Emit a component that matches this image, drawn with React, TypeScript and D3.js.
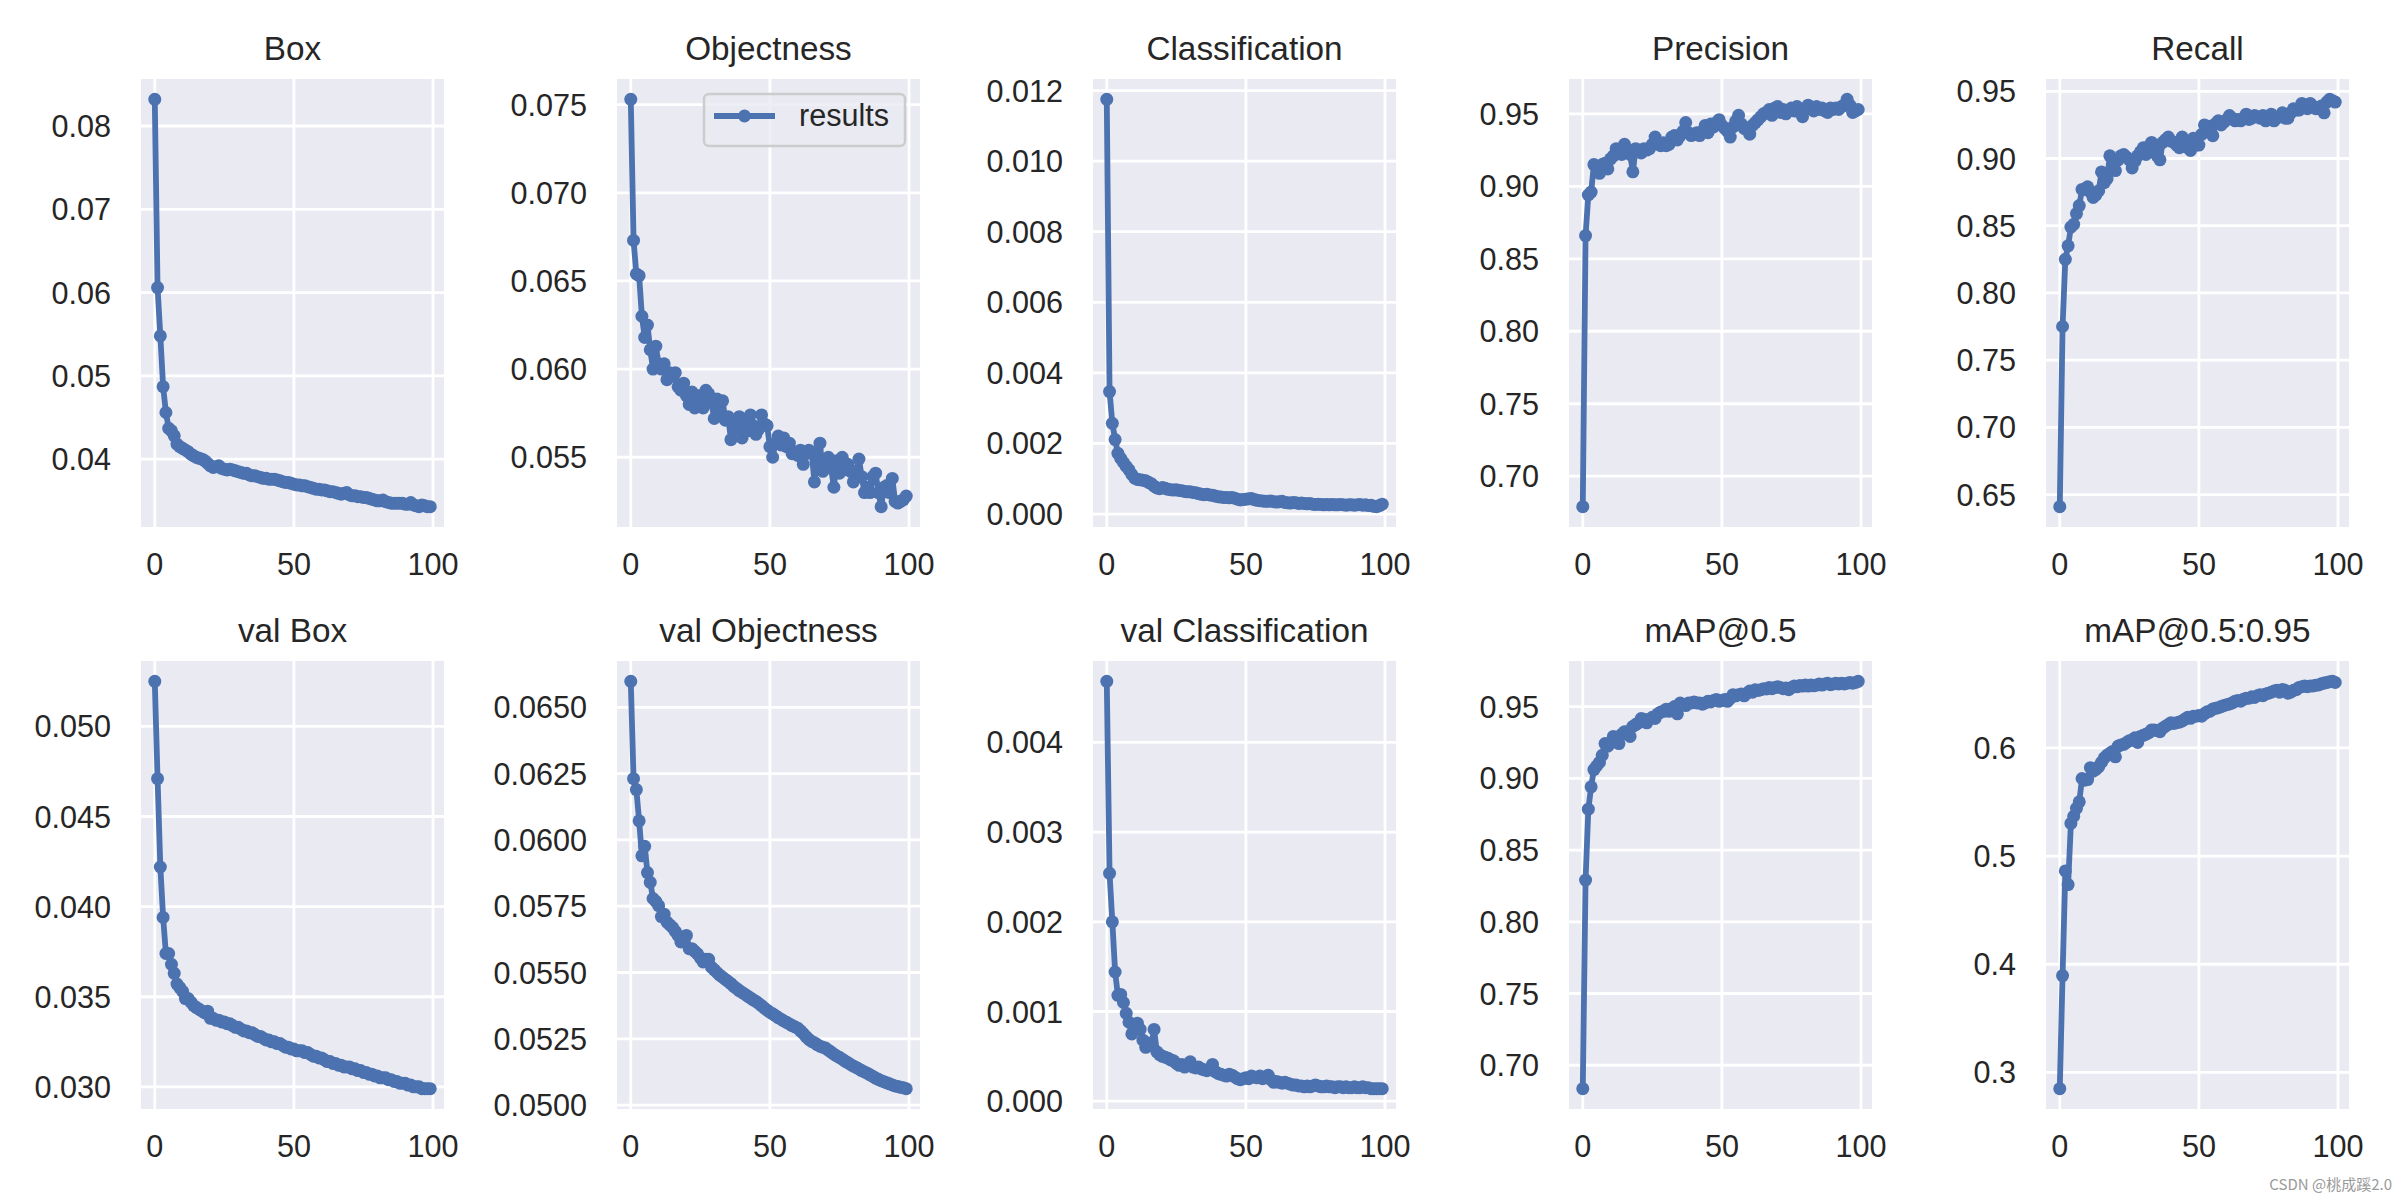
import React from "react";
import * as d3 from "d3";

const titles = ["Box", "Objectness", "Classification", "Precision", "Recall", "val Box", "val Objectness", "val Classification", "mAP@0.5", "mAP@0.5:0.95"];

const boxLoss = [0.0832,0.0606,0.0548,0.0487,0.0456,0.0437,0.0434,0.0428,0.0418,0.0415,0.0413,0.0411,0.0409,0.0406,0.0404,0.0402,0.0401,0.0400,0.0398,0.0395,0.0392,0.0390,0.0391,0.0392,0.0389,0.0388,0.0387,0.0388,0.0387,0.0386,0.0385,0.0384,0.0383,0.0383,0.0381,0.0380,0.0380,0.0379,0.0378,0.0377,0.0377,0.0376,0.0376,0.0376,0.0375,0.0374,0.0373,0.0372,0.0372,0.0371,0.0370,0.0369,0.0369,0.0368,0.0368,0.0367,0.0366,0.0365,0.0364,0.0364,0.0363,0.0363,0.0362,0.0361,0.0361,0.0360,0.0359,0.0358,0.0359,0.0360,0.0357,0.0356,0.0356,0.0355,0.0355,0.0354,0.0354,0.0353,0.0352,0.0351,0.0350,0.0350,0.0351,0.0349,0.0348,0.0347,0.0347,0.0347,0.0347,0.0347,0.0346,0.0346,0.0348,0.0345,0.0344,0.0343,0.0345,0.0344,0.0343,0.0343];

const objLoss = [0.0753,0.0673,0.0654,0.0653,0.0630,0.0618,0.0625,0.0611,0.0600,0.0613,0.0603,0.0600,0.0603,0.0594,0.0598,0.0596,0.0598,0.0590,0.0588,0.0592,0.0585,0.0580,0.0587,0.0578,0.0585,0.0580,0.0578,0.0588,0.0586,0.0581,0.0572,0.0583,0.0575,0.0582,0.0571,0.0573,0.0560,0.0569,0.0566,0.0573,0.0561,0.0570,0.0565,0.0574,0.0568,0.0563,0.0566,0.0574,0.0569,0.0568,0.0556,0.0550,0.0558,0.0562,0.0557,0.0561,0.0556,0.0558,0.0552,0.0553,0.0551,0.0554,0.0546,0.0552,0.0554,0.0553,0.0536,0.0550,0.0558,0.0542,0.0548,0.0550,0.0544,0.0533,0.0548,0.0541,0.0550,0.0543,0.0546,0.0542,0.0536,0.0542,0.0549,0.0539,0.0530,0.0533,0.0530,0.0539,0.0541,0.0530,0.0522,0.0533,0.0534,0.0530,0.0538,0.0525,0.0524,0.0525,0.0526,0.0528];

const clsLoss = [0.01175,0.00347,0.00257,0.00211,0.00172,0.00158,0.00146,0.00135,0.00125,0.00112,0.00102,0.00098,0.00097,0.00096,0.00094,0.00090,0.00086,0.00079,0.00074,0.00072,0.00075,0.00073,0.00070,0.00069,0.00068,0.00069,0.00067,0.00066,0.00064,0.00063,0.00063,0.00061,0.00060,0.00058,0.00056,0.00055,0.00056,0.00054,0.00053,0.00051,0.00049,0.00048,0.00047,0.00047,0.00046,0.00047,0.00045,0.00042,0.00040,0.00041,0.00042,0.00043,0.00044,0.00041,0.00039,0.00038,0.00037,0.00036,0.00036,0.00037,0.00035,0.00034,0.00035,0.00036,0.00033,0.00032,0.00031,0.00033,0.00032,0.00030,0.00031,0.00030,0.00029,0.00030,0.00028,0.00027,0.00028,0.00027,0.00026,0.00027,0.00026,0.00027,0.00026,0.00026,0.00027,0.00026,0.00025,0.00026,0.00026,0.00025,0.00026,0.00027,0.00025,0.00026,0.00024,0.00025,0.00022,0.00021,0.00024,0.00028];

const precision = [0.679,0.866,0.894,0.896,0.915,0.914,0.909,0.915,0.916,0.912,0.919,0.921,0.926,0.924,0.922,0.929,0.925,0.922,0.910,0.926,0.925,0.923,0.926,0.925,0.926,0.929,0.934,0.930,0.928,0.930,0.928,0.929,0.934,0.935,0.932,0.935,0.938,0.944,0.937,0.935,0.936,0.937,0.935,0.938,0.942,0.937,0.943,0.941,0.944,0.946,0.942,0.940,0.938,0.934,0.941,0.945,0.949,0.943,0.940,0.939,0.936,0.942,0.944,0.946,0.948,0.950,0.951,0.953,0.949,0.954,0.955,0.951,0.953,0.950,0.952,0.954,0.952,0.955,0.951,0.948,0.953,0.956,0.954,0.952,0.955,0.953,0.954,0.952,0.951,0.954,0.953,0.954,0.953,0.955,0.956,0.960,0.956,0.951,0.952,0.953];

const recall = [0.641,0.775,0.825,0.835,0.849,0.851,0.859,0.865,0.877,0.877,0.879,0.875,0.871,0.873,0.876,0.890,0.882,0.885,0.902,0.893,0.891,0.899,0.902,0.903,0.901,0.899,0.893,0.898,0.902,0.905,0.908,0.903,0.909,0.912,0.908,0.902,0.899,0.912,0.914,0.916,0.913,0.912,0.910,0.908,0.916,0.913,0.908,0.906,0.915,0.910,0.910,0.918,0.925,0.923,0.924,0.917,0.926,0.928,0.925,0.927,0.929,0.932,0.930,0.928,0.929,0.928,0.930,0.933,0.929,0.930,0.932,0.931,0.930,0.932,0.928,0.930,0.933,0.928,0.930,0.931,0.934,0.930,0.930,0.934,0.937,0.936,0.936,0.941,0.938,0.937,0.941,0.939,0.937,0.937,0.939,0.934,0.942,0.944,0.943,0.942];

const valBox = [0.0525,0.0471,0.0422,0.0394,0.0374,0.0374,0.0368,0.0363,0.0357,0.0355,0.0353,0.0349,0.0349,0.0347,0.0345,0.0344,0.0343,0.0342,0.0341,0.0342,0.0338,0.0338,0.0337,0.0337,0.0336,0.0336,0.0335,0.0335,0.0334,0.0333,0.0333,0.0332,0.0331,0.0331,0.0330,0.0330,0.0329,0.0328,0.0328,0.0327,0.0326,0.0326,0.0325,0.0325,0.0324,0.0324,0.0323,0.0322,0.0322,0.0321,0.0321,0.0320,0.0320,0.0320,0.0319,0.0319,0.0318,0.0317,0.0317,0.0316,0.0316,0.0315,0.0314,0.0314,0.0313,0.0313,0.0312,0.0312,0.0311,0.0311,0.0311,0.0310,0.0310,0.0309,0.0309,0.0308,0.0308,0.0307,0.0307,0.0306,0.0306,0.0305,0.0305,0.0305,0.0304,0.0304,0.0303,0.0303,0.0302,0.0302,0.0302,0.0301,0.0301,0.0300,0.0300,0.0300,0.0299,0.0299,0.0299,0.0299];

const valObj = [0.06598,0.06231,0.06190,0.06072,0.05940,0.05976,0.05877,0.05840,0.05779,0.05768,0.05752,0.05711,0.05720,0.05690,0.05680,0.05670,0.05655,0.05640,0.05615,0.05620,0.05640,0.05590,0.05590,0.05580,0.05570,0.05555,0.05540,0.05550,0.05550,0.05520,0.05510,0.05500,0.05490,0.05482,0.05474,0.05466,0.05458,0.05448,0.05440,0.05432,0.05425,0.05418,0.05411,0.05404,0.05397,0.05391,0.05383,0.05375,0.05366,0.05358,0.05350,0.05344,0.05337,0.05330,0.05324,0.05317,0.05312,0.05306,0.05300,0.05295,0.05290,0.05280,0.05270,0.05258,0.05248,0.05240,0.05235,0.05228,0.05222,0.05218,0.05215,0.05207,0.05200,0.05192,0.05185,0.05180,0.05173,0.05166,0.05160,0.05153,0.05147,0.05142,0.05136,0.05130,0.05125,0.05120,0.05114,0.05108,0.05102,0.05097,0.05092,0.05088,0.05084,0.05080,0.05076,0.05072,0.05070,0.05067,0.05065,0.05062];

const valCls = [0.00468,0.00254,0.00200,0.00144,0.00118,0.00119,0.00110,0.00098,0.00088,0.00075,0.00082,0.00087,0.00080,0.00068,0.00060,0.00065,0.00062,0.00080,0.00055,0.00052,0.00050,0.00049,0.00048,0.00046,0.00045,0.00042,0.00040,0.00041,0.00038,0.00040,0.00044,0.00038,0.00037,0.00038,0.00036,0.00035,0.00034,0.00036,0.00041,0.00033,0.00031,0.00030,0.00029,0.00028,0.00030,0.00029,0.00027,0.00025,0.00024,0.00025,0.00026,0.00025,0.00028,0.00027,0.00026,0.00028,0.00025,0.00027,0.00029,0.00024,0.00021,0.00022,0.00021,0.00020,0.00021,0.00020,0.00019,0.00018,0.00018,0.00017,0.00017,0.00016,0.00017,0.00016,0.00017,0.00018,0.00017,0.00016,0.00016,0.00017,0.00016,0.00016,0.00015,0.00016,0.00016,0.00015,0.00016,0.00015,0.00015,0.00016,0.00015,0.00015,0.00016,0.00015,0.00015,0.00014,0.00014,0.00014,0.00014,0.00014];

const map50 = [0.6837,0.8291,0.8785,0.8941,0.9061,0.9086,0.9111,0.9161,0.9242,0.9224,0.9249,0.9292,0.9282,0.9242,0.9307,0.9324,0.9324,0.9292,0.9362,0.9375,0.9387,0.9417,0.9412,0.9387,0.9412,0.9425,0.9417,0.9450,0.9462,0.9467,0.9482,0.9467,0.9487,0.9500,0.9450,0.9525,0.9517,0.9507,0.9525,0.9525,0.9533,0.9525,0.9525,0.9517,0.9525,0.9537,0.9533,0.9542,0.9550,0.9537,0.9542,0.9550,0.9537,0.9557,0.9583,0.9575,0.9583,0.9588,0.9575,0.9593,0.9608,0.9600,0.9618,0.9613,0.9618,0.9625,0.9623,0.9633,0.9625,0.9633,0.9638,0.9633,0.9625,0.9630,0.9618,0.9633,0.9643,0.9638,0.9648,0.9643,0.9650,0.9643,0.9650,0.9645,0.9650,0.9658,0.9650,0.9658,0.9663,0.9653,0.9658,0.9663,0.9658,0.9663,0.9658,0.9663,0.9668,0.9663,0.9668,0.9676];

const map5095 = [0.285,0.3895,0.4863,0.4736,0.5302,0.5368,0.5441,0.5501,0.5717,0.5701,0.5707,0.5817,0.5784,0.5800,0.5827,0.5867,0.5907,0.5933,0.5950,0.5967,0.5917,0.6017,0.6027,0.6033,0.6050,0.6067,0.6073,0.6093,0.6050,0.6106,0.6116,0.6126,0.6140,0.6166,0.6166,0.6160,0.6150,0.6183,0.6200,0.6216,0.6233,0.6226,0.6233,0.6239,0.6249,0.6266,0.6283,0.6273,0.6293,0.6293,0.6299,0.6293,0.6316,0.6333,0.6339,0.6359,0.6366,0.6372,0.6382,0.6392,0.6399,0.6406,0.6416,0.6432,0.6439,0.6432,0.6449,0.6459,0.6459,0.6472,0.6466,0.6482,0.6492,0.6482,0.6499,0.6505,0.6515,0.6525,0.6532,0.6515,0.6539,0.6532,0.6505,0.6515,0.6532,0.6539,0.6559,0.6565,0.6572,0.6565,0.6572,0.6572,0.6579,0.6582,0.6592,0.6599,0.6605,0.6612,0.6615,0.6605];

const seriesList = [boxLoss, objLoss, clsLoss, precision, recall, valBox, valObj, valCls, map50, map5095];

const yTickValues = [
  [0.04, 0.05, 0.06, 0.07, 0.08],
  [0.055, 0.06, 0.065, 0.07, 0.075],
  [0, 0.002, 0.004, 0.006, 0.008, 0.01, 0.012],
  [0.7, 0.75, 0.8, 0.85, 0.9, 0.95],
  [0.65, 0.7, 0.75, 0.8, 0.85, 0.9, 0.95],
  [0.03, 0.035, 0.04, 0.045, 0.05],
  [0.05, 0.0525, 0.055, 0.0575, 0.06, 0.0625, 0.065],
  [0, 0.001, 0.002, 0.003, 0.004],
  [0.7, 0.75, 0.8, 0.85, 0.9, 0.95],
  [0.3, 0.4, 0.5, 0.6],
];
const yTickDigits = [2, 3, 3, 2, 2, 3, 4, 3, 2, 1];
const xTickValues = [0, 50, 100];
const legendLabel = "results";

const COLOR = "#4C72B0";
const FONT = "'Liberation Sans', Arial, Helvetica, sans-serif";
const TEXT = "#262626";
const colLeft = [141, 617, 1093, 1569, 2046];
const rowTop = [79, 661];
const AW = 303;
const AH = 448;

function Panel({ idx }: { idx: number }) {
  const data = seriesList[idx];
  const left = colLeft[idx % 5];
  const top = rowTop[Math.floor(idx / 5)];
  const n = data.length;
  const xPad = (n - 1) * 0.05;
  const x = d3.scaleLinear().domain([-xPad, n - 1 + xPad]).range([left, left + AW]);
  const [mn, mx] = d3.extent(data) as [number, number];
  const yPad = (mx - mn) * 0.05;
  const y = d3.scaleLinear().domain([mn - yPad, mx + yPad]).range([top + AH, top]);
  const line = d3.line<number>().x((_, i) => x(i)).y((d) => y(d));
  const fmt = d3.format(`.${yTickDigits[idx]}f`);
  const yTicks = yTickValues[idx];
  return (
    <g>
      <rect x={left} y={top} width={AW} height={AH} fill="#EAEAF2" />
      {xTickValues.map((t) => (
        <line key={"gx" + t} x1={x(t)} x2={x(t)} y1={top} y2={top + AH} stroke="#fff" strokeWidth={2.8} />
      ))}
      {yTicks.map((t) => (
        <line key={"gy" + t} x1={left} x2={left + AW} y1={y(t)} y2={y(t)} stroke="#fff" strokeWidth={2.8} />
      ))}
      <path d={line(data) || ""} fill="none" stroke={COLOR} strokeWidth={5.8} strokeLinejoin="round" strokeLinecap="butt" />
      {data.map((d, i) => (
        <circle key={i} cx={x(i)} cy={y(d)} r={6.5} fill={COLOR} />
      ))}
      {yTicks.map((t) => (
        <text key={"ty" + t} x={left - 30} y={y(t)} dy="0.36em" textAnchor="end" fontSize={30.6} fill={TEXT} fontFamily={FONT}>
          {fmt(t)}
        </text>
      ))}
      {xTickValues.map((t) => (
        <text key={"tx" + t} x={x(t)} y={top + AH + 48} textAnchor="middle" fontSize={30.6} fill={TEXT} fontFamily={FONT}>
          {t}
        </text>
      ))}
      <text x={left + AW / 2} y={top - 19} textAnchor="middle" fontSize={33.3} fill={TEXT} fontFamily={FONT}>
        {titles[idx]}
      </text>
      {idx === 1 && (
        <g>
          <rect x={left + AW - 15 - 201} y={top + 15} width={201} height={52} rx={5} fill="#EAEAF2" fillOpacity={0.8} stroke="#CCCCCC" strokeWidth={2.5} />
          <line x1={left + AW - 15 - 201 + 10} x2={left + AW - 15 - 201 + 71} y1={top + 37} y2={top + 37} stroke={COLOR} strokeWidth={5.8} />
          <circle cx={left + AW - 15 - 201 + 40.5} cy={top + 37} r={6.5} fill={COLOR} />
          <text x={left + AW - 15 - 201 + 95} y={top + 47} fontSize={30.6} fill={TEXT} fontFamily={FONT}>
            {legendLabel}
          </text>
        </g>
      )}
    </g>
  );
}

export default function App() {
  return (
    <svg width={2400} height={1200} viewBox="0 0 2400 1200" style={{ position: "absolute", left: 0, top: 0, background: "#fff" }}>
      <rect x={0} y={0} width={2400} height={1200} fill="#fff" />
      {titles.map((_, i) => (
        <Panel key={i} idx={i} />
      ))}
      <text x={2392} y={1190} textAnchor="end" fontSize={15} fill="#9a9a9a" fontFamily="'Noto Sans CJK SC', 'Noto Sans', sans-serif">
        CSDN @桃成蹊2.0
      </text>
    </svg>
  );
}
